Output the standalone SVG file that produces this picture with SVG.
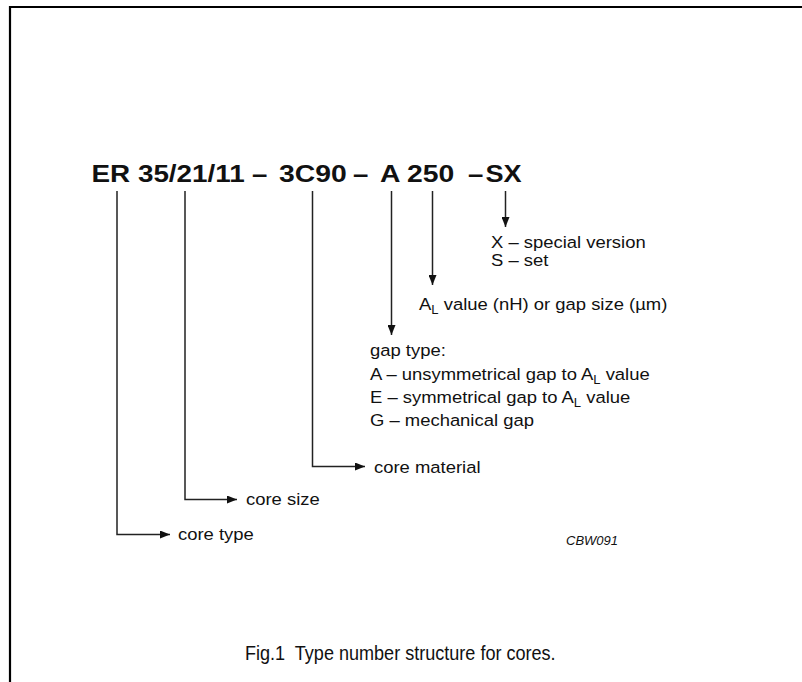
<svg xmlns="http://www.w3.org/2000/svg" width="802" height="682" viewBox="0 0 802 682">
<style>
.t{font-family:"Liberation Sans",Arial,sans-serif;font-size:17px;fill:#111}
.s{font-size:12px}
.title{font-family:"Liberation Sans",Arial,sans-serif;font-size:24px;font-weight:bold;fill:#111}
.ln{fill:none;stroke:#222;stroke-width:1.5}
.cap{font-family:"Liberation Sans",Arial,sans-serif;font-size:19.5px;fill:#111}
.code{font-family:"Liberation Sans",Arial,sans-serif;font-size:12px;font-style:italic;fill:#111}
</style>
<defs>
<marker id="ah" viewBox="0 0 10 8" refX="10" refY="4" markerWidth="10" markerHeight="8" markerUnits="userSpaceOnUse" orient="auto">
<path d="M0,0 L10,4 L0,8 Z" fill="#111"/>
</marker>
</defs>
<rect width="802" height="682" fill="#fff"/>
<path d="M10,682 V7 H802" fill="none" stroke="#000" stroke-width="2.2"/>
<g id="title">
<text class="title" transform="translate(91.5,182) scale(1.16,1)">ER 35/21/11</text>
<text class="title" transform="translate(252,182) scale(1.15,1)">–</text>
<text class="title" transform="translate(279,182) scale(1.18,1)">3C90</text>
<text class="title" transform="translate(353,182) scale(1.15,1)">–</text>
<text class="title" transform="translate(380,182) scale(1.18,1)">A</text>
<text class="title" transform="translate(407,182) scale(1.18,1)">250</text>
<text class="title" transform="translate(468,182) scale(1.15,1)">–</text>
<text class="title" transform="translate(485.5,182) scale(1.13,1)">SX</text>
</g>
<g id="connectors">
<path class="ln" d="M117,191 V534.5 H170" marker-end="url(#ah)"/>
<path class="ln" d="M185,191 V499.5 H237" marker-end="url(#ah)"/>
<path class="ln" d="M312.5,191 V466.5 H365" marker-end="url(#ah)"/>
<path class="ln" d="M391.5,191 V335" marker-end="url(#ah)"/>
<path class="ln" d="M432.5,191 V285" marker-end="url(#ah)"/>
<path class="ln" d="M505.5,191 V227" marker-end="url(#ah)"/>
</g>
<g id="core-type"><text class="t" transform="translate(178,540) scale(1.085,1)">core type</text></g>
<g id="core-size"><text class="t" transform="translate(246,505) scale(1.085,1)">core size</text></g>
<g id="core-material"><text class="t" transform="translate(374,473) scale(1.085,1)">core material</text></g>
<g id="gap-type">
<text class="t" transform="translate(370,356) scale(1.085,1)">gap type:</text>
<text class="t" transform="translate(370,380) scale(1.085,1)">A – unsymmetrical gap to A<tspan class="s" dy="4">L</tspan><tspan dy="-4"> value</tspan></text>
<text class="t" transform="translate(370,403) scale(1.085,1)">E – symmetrical gap to A<tspan class="s" dy="4">L</tspan><tspan dy="-4"> value</tspan></text>
<text class="t" transform="translate(370,426) scale(1.085,1)">G – mechanical gap</text>
</g>
<g id="al-value"><text class="t" transform="translate(419,310) scale(1.085,1)">A<tspan class="s" dy="4">L</tspan><tspan dy="-4"> value (nH) or gap size (µm)</tspan></text></g>
<g id="special">
<text class="t" transform="translate(491,248) scale(1.085,1)">X – special version</text>
<text class="t" transform="translate(491,266) scale(1.085,1)">S – set</text>
</g>
<text class="code" transform="translate(566,545) scale(1.085,1)">CBW091</text>
<text class="cap" transform="translate(245,660) scale(0.926,1)" xml:space="preserve">Fig.1  Type number structure for cores.</text>
</svg>
